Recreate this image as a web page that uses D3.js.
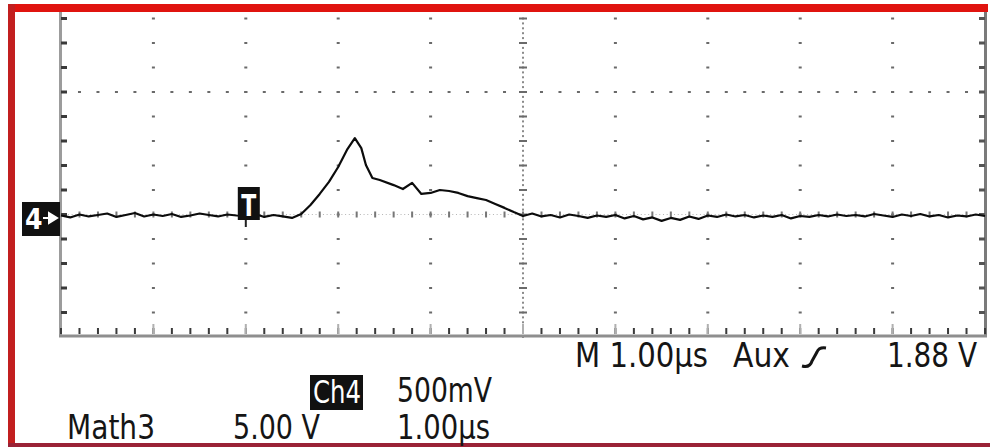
<!DOCTYPE html>
<html><head><meta charset="utf-8">
<script src="https://cdn.jsdelivr.net/npm/d3@7"></script>
<style>html,body{margin:0;padding:0;background:#fff;overflow:hidden}svg{display:block}</style>
</head><body>
<svg id="c" width="990" height="447"></svg>
<script>
// ---- data (time in µs relative to trigger, Ch4 voltage in mV) ----
const timeUs = [-2.0,-1.9,-1.8,-1.7,-1.6,-1.5,-1.4,-1.3,-1.2,-1.1,-1.0,-0.9,-0.8,-0.7,-0.6,-0.5,-0.4,-0.3,-0.2,-0.1,
  0.0,0.1,0.2,0.3,0.4,0.5,0.6,0.7,0.8,0.9,1.0,1.1,1.18,1.25,1.3,1.37,1.45,1.6,1.7,1.8,1.9,
  2.0,2.1,2.2,2.3,2.4,2.5,2.6,2.7,2.8,2.9,3.0,3.1,3.2,3.3,3.4,3.5,3.6,3.7,3.8,3.9,
  4.0,4.1,4.2,4.3,4.4,4.5,4.6,4.7,4.8,4.9,5.0,5.1,5.2,5.3,5.4,5.5,5.6,5.7,5.8,5.9,
  6.0,6.1,6.2,6.3,6.4,6.5,6.6,6.7,6.8,6.9,7.0,7.1,7.2,7.3,7.4,7.5,7.6,7.7,7.8,7.9,8.0];
const ch4mV = [-4,-12,0,-8,-2,4,-10,-2,6,-8,0,-6,2,-10,-4,4,-2,-8,0,-4,
  -6,2,-10,-2,-8,-14,2,39,84,133,194,267,312,271,202,149,141,120,104,129,84,
  88,100,96,88,75,67,59,43,27,10,-6,4,-8,-2,-12,0,-6,-14,-4,-10,
  -2,-16,-6,-20,-12,-26,-14,-22,-8,-18,-4,-10,0,-8,-2,-12,-4,-10,-2,-16,
  -6,-10,-2,-8,0,-6,-2,-8,2,-4,-10,0,-6,2,-8,-2,-12,-4,-8,0,-6];
const timeDomainUs = [-2, 8];          // 10 divisions × 1.00 µs
const voltDomainMV = [-500, 500];      // 500 mV/div
const readoutTop = ["M 1.00µs", "Aux", "1.88 V"];
const channelTag = "4";
const triggerTag = "T";
const chLabels = ["Ch4", "500mV"];
const mathLabels = ["Math3", "5.00 V", "1.00µs"];

// ---- drawing ----
const svg = d3.select("#c");
const x = d3.scaleLinear().domain(timeDomainUs).range([61, 985]);
const y = d3.scaleLinear().domain(voltDomainMV).range([337, 92]);
const FONT = "'Liberation Sans Narrow','DejaVu Sans Condensed','Arial Narrow',sans-serif";

svg.append("rect").attr("width", 990).attr("height", 447).attr("fill", "#fff");

// frame borders
svg.append("rect").attr("x", 8).attr("y", 4).attr("width", 980).attr("height", 8).attr("fill", "#e0140f");
svg.append("rect").attr("x", 8).attr("y", 4).attr("width", 7).attr("height", 443).attr("fill", "#c21f1f");
svg.append("rect").attr("x", 8).attr("y", 443).attr("width", 982).attr("height", 4).attr("fill", "#9a2236");

const grat = svg.append("g");
const minorT = d3.range(timeDomainUs[0], timeDomainUs[1] + 0.001, 0.2);
const minorV = d3.range(-400, 801, 100);
const plotTop = 12, plotBottom = 336;

// vertical dotted gridlines
[-1, 0, 1, 2, 4, 5, 6, 7].forEach(t => {
  grat.selectAll(null).data(minorV).join("rect")
    .attr("x", x(t) - 1.5).attr("y", d => y(d) - 1).attr("width", 3).attr("height", 2).attr("fill", "#6a6a6a");
});
// horizontal dotted gridline at +1 div
grat.selectAll(null).data(minorT).join("rect")
  .attr("x", d => x(d) - 1.5).attr("y", y(500) - 1).attr("width", 3).attr("height", 2).attr("fill", "#6a6a6a");
// centre horizontal axis
grat.selectAll(null).data(d3.range(-2, 8.001, 0.04)).join("rect")
  .attr("x", d => x(d) - 0.5).attr("y", y(0) - 0.5).attr("width", 1).attr("height", 1).attr("fill", "#b5b5b5");
grat.selectAll(null).data(minorT).join("rect")
  .attr("x", d => x(d) - 1).attr("y", y(0) - 3).attr("width", 2).attr("height", 6).attr("fill", "#777");
// centre vertical axis
grat.selectAll(null).data(d3.range(-500, 820, 20)).join("rect")
  .attr("x", x(3) - 1).attr("y", d => y(d) - 1).attr("width", 2).attr("height", 2).attr("fill", "#8a8a8a");
grat.selectAll(null).data(minorV).join("rect")
  .attr("x", x(3) - 4).attr("y", d => y(d) - 1).attr("width", 8).attr("height", 2).attr("fill", "#6a6a6a");

// edges
grat.append("line").attr("x1", 60.5).attr("x2", 60.5).attr("y1", plotTop).attr("y2", plotBottom + 1).attr("stroke", "#9c9c9c").attr("stroke-width", 3);
grat.append("line").attr("x1", 985.5).attr("x2", 985.5).attr("y1", plotTop).attr("y2", plotBottom + 1).attr("stroke", "#7a7a7a").attr("stroke-width", 3);
grat.append("line").attr("x1", 59).attr("x2", 987).attr("y1", plotBottom).attr("y2", plotBottom).attr("stroke", "#8e8e8e").attr("stroke-width", 3);
grat.selectAll(null).data(minorV).join("rect")
  .attr("x", 61).attr("y", d => y(d) - 1.5).attr("width", 6).attr("height", 3).attr("fill", "#3a3a3a");
grat.selectAll(null).data(minorV).join("rect")
  .attr("x", 979).attr("y", d => y(d) - 1.5).attr("width", 6).attr("height", 3).attr("fill", "#555");
grat.selectAll(null).data(minorT).join("rect")
  .attr("x", d => x(d) - 1).attr("y", plotBottom - 8).attr("width", 2).attr("height", 6).attr("fill", "#3a3a3a");
grat.selectAll(null).data(d3.range(-1, 8, 1)).join("rect")
  .attr("x", d => x(d) - 1).attr("y", plotBottom - 12).attr("width", 2).attr("height", 10).attr("fill", "#b0b0b0");

// trace
const pts = timeUs.map((t, i) => [t, ch4mV[i]]);
svg.append("path").datum(pts)
  .attr("d", d3.line().x(d => x(d[0])).y(d => y(d[1])))
  .attr("fill", "none").attr("stroke", "#0c0c0c").attr("stroke-width", 2.2).attr("stroke-linejoin", "round");

// channel ground marker
const cm = svg.append("g");
cm.append("rect").attr("x", 22).attr("y", 202).attr("width", 38).attr("height", 34).attr("fill", "#111");
cm.append("text").attr("x", 25).attr("y", 229).text(channelTag)
  .attr("font-family", FONT).attr("font-weight", "bold").attr("font-size", 28).attr("fill", "#fff");
cm.append("path").attr("d", "M43,218 L50,218 M49,213 L57,218 L49,223 Z")
  .attr("stroke", "#fff").attr("stroke-width", 2).attr("fill", "#fff");

// trigger marker
const tm = svg.append("g");
tm.append("rect").attr("x", x(0) - 8).attr("y", 187).attr("width", 22).attr("height", 33).attr("fill", "#111");
tm.append("text").attr("x", x(0) + 3).attr("y", 216).attr("text-anchor", "middle").text(triggerTag)
  .attr("font-family", FONT).attr("font-weight", "bold").attr("font-size", 30).attr("fill", "#fff")
  .attr("textLength", 15).attr("lengthAdjust", "spacingAndGlyphs");
tm.append("rect").attr("x", x(0) - 1).attr("y", 220).attr("width", 2).attr("height", 7).attr("fill", "#222");

// readouts
function label(txt, x0, base, w, fill, size) {
  return svg.append("text").attr("x", x0).attr("y", base).text(txt)
    .attr("font-family", FONT).attr("font-size", size || 34).attr("fill", fill || "#151515")
    .attr("textLength", w).attr("lengthAdjust", "spacingAndGlyphs");
}
label(readoutTop[0], 575, 367, 133);
label(readoutTop[1], 733, 367, 57);
svg.append("path").attr("d", "M802,366 Q810,368 812,361 L817,352 Q819,347 826,348")
  .attr("fill", "none").attr("stroke", "#151515").attr("stroke-width", 3);
label(readoutTop[2], 887, 367, 90);

svg.append("rect").attr("x", 310).attr("y", 375).attr("width", 53).attr("height", 35).attr("fill", "#111");
label(chLabels[0], 313, 403, 48, "#fff", 32);
label(chLabels[1], 397, 402, 95);
label(mathLabels[0], 67, 439, 88);
label(mathLabels[1], 233, 439, 87);
label(mathLabels[2], 397, 439, 93);
</script>
</body></html>
